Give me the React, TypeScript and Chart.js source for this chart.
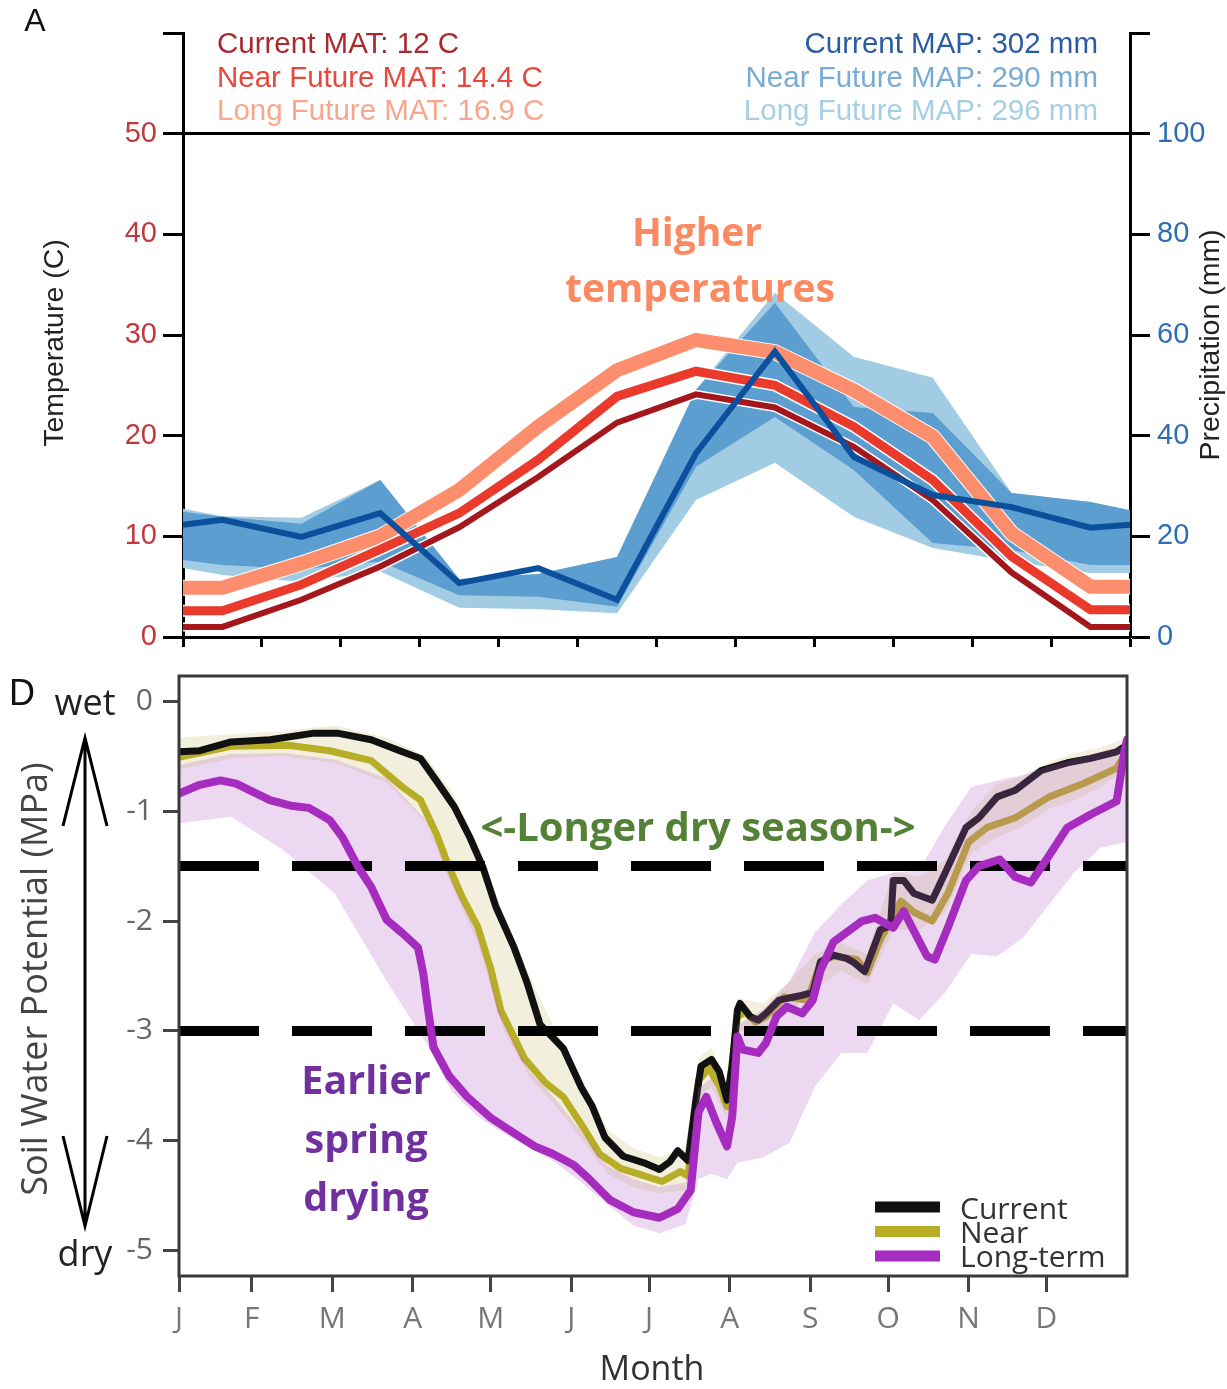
import React, { useEffect, useRef } from 'react';
import { Chart, registerables } from 'chart.js';

Chart.register(...registerables);

// ---------------- Panel A data ----------------
const monthX = [0, 0.5, 1.5, 2.5, 3.5, 4.5, 5.5, 6.5, 7.5, 8.5, 9.5, 10.5, 11.5, 12];
const tempCurrent = [1.0, 1.0, 3.7, 7.0, 10.9, 15.9, 21.3, 24.1, 22.8, 18.9, 13.6, 6.4, 1.0, 1.0];
const tempNear = [2.6, 2.6, 5.2, 8.7, 12.3, 17.6, 23.9, 26.4, 25.0, 20.9, 15.6, 8.0, 2.7, 2.7];
const tempLong = [4.9, 4.9, 7.3, 10.0, 14.6, 20.9, 26.5, 29.5, 28.3, 24.5, 19.9, 10.3, 5.0, 5.0];
const precipCurrent = [22.3, 23.3, 19.9, 24.6, 10.7, 13.7, 7.4, 36.5, 56.7, 35.8, 28.2, 25.8, 21.7, 22.3];
const precipNearUpper = [24.9, 23.9, 22.5, 31.2, 11.5, 12.5, 15.9, 49.1, 66.4, 45.7, 44.5, 28.6, 26.8, 25.2];
const precipNearLower = [15.3, 14.3, 13.5, 15.0, 8.3, 8.0, 6.0, 33.8, 43.7, 33.2, 18.7, 17.3, 14.3, 14.3];
const precipLongUpper = [25.5, 24.0, 23.7, 31.2, 11.5, 12.5, 15.9, 49.1, 68.4, 55.7, 51.5, 28.6, 26.8, 25.2];
const precipLongLower = [13.7, 12.3, 11.0, 13.0, 5.8, 5.5, 4.7, 27.2, 34.6, 23.9, 17.7, 15.0, 12.7, 12.7];
const tempTicks = [0, 10, 20, 30, 40, 50];
const precipTicks = [0, 20, 40, 60, 80, 100];
const matLabels = ['Current MAT: 12 C', 'Near Future MAT: 14.4 C', 'Long Future MAT: 16.9 C'];
const mapLabels = ['Current MAP: 302 mm', 'Near Future MAP: 290 mm', 'Long Future MAP: 296 mm'];

// ---------------- Panel D data ----------------
const monthTickDays = [0, 28, 59, 90, 120, 151, 181, 212, 243, 273, 304, 334];
const monthLetters = ['J', 'F', 'M', 'A', 'M', 'J', 'J', 'A', 'S', 'O', 'N', 'D'];
const swpTicks = [0, -1, -2, -3, -4, -5];
const thresholds = [-1.5, -3];

const currentDays = [0, 8, 20, 35, 52, 61, 74, 86, 93, 99, 106, 112, 117, 122, 129, 134, 139, 148, 155, 159, 164, 171, 179, 185, 189, 192, 196, 199, 201, 205, 208, 211, 213, 215, 216, 220, 223, 226, 231, 239, 244, 247, 252, 257, 260, 264, 270, 274, 275, 279, 283, 290, 295, 303, 308, 315, 322, 332, 342, 351, 361, 365];
const currentSWP = [-0.46, -0.45, -0.37, -0.35, -0.29, -0.29, -0.35, -0.46, -0.52, -0.72, -0.96, -1.24, -1.51, -1.87, -2.24, -2.56, -2.94, -3.16, -3.52, -3.68, -3.97, -4.14, -4.2, -4.26, -4.19, -4.09, -4.18, -3.63, -3.32, -3.26, -3.37, -3.63, -3.31, -2.81, -2.75, -2.87, -2.9, -2.84, -2.72, -2.68, -2.65, -2.37, -2.31, -2.34, -2.38, -2.46, -2.08, -2.04, -1.63, -1.63, -1.75, -1.81, -1.56, -1.15, -1.06, -0.87, -0.81, -0.63, -0.56, -0.52, -0.46, -0.4];

const nearDays = [0, 20, 42, 58, 74, 86, 93, 99, 104, 109, 115, 120, 124, 133, 141, 148, 156, 162, 170, 178, 186, 193, 196, 200, 204, 208, 211, 215, 218, 222, 226, 233, 242, 247, 252, 261, 265, 270, 278, 283, 290, 296, 304, 311, 322, 335, 348, 361, 365];
const nearSWP = [-0.51, -0.41, -0.4, -0.45, -0.54, -0.78, -0.9, -1.2, -1.51, -1.78, -2.05, -2.43, -2.82, -3.25, -3.47, -3.6, -3.89, -4.12, -4.25, -4.31, -4.37, -4.28, -4.32, -3.45, -3.34, -3.5, -3.69, -2.87, -2.83, -2.92, -2.87, -2.69, -2.72, -2.38, -2.32, -2.35, -2.47, -2.17, -1.82, -1.92, -2.0, -1.75, -1.28, -1.15, -1.06, -0.87, -0.75, -0.61, -0.45];

const longDays = [0, 8, 16, 22, 35, 43, 50, 58, 63, 69, 74, 80, 86, 92, 94, 96, 98, 104, 111, 120, 129, 137, 144, 152, 158, 166, 175, 185, 192, 197, 200, 203, 207, 211, 213, 215, 217, 223, 226, 230, 234, 240, 244, 247, 252, 263, 268, 275, 279, 288, 291, 296, 303, 308, 316, 322, 328, 334, 342, 351, 361, 364, 365];
const longSWP = [-0.84, -0.76, -0.72, -0.75, -0.9, -0.95, -0.97, -1.08, -1.24, -1.51, -1.69, -1.99, -2.11, -2.24, -2.47, -2.82, -3.15, -3.41, -3.6, -3.79, -3.93, -4.05, -4.12, -4.22, -4.35, -4.54, -4.65, -4.7, -4.62, -4.45, -3.74, -3.6, -3.84, -4.05, -3.78, -3.05, -3.17, -3.2, -3.11, -2.87, -2.78, -2.84, -2.72, -2.45, -2.19, -2.0, -1.97, -2.06, -1.91, -2.32, -2.35, -2.06, -1.63, -1.5, -1.44, -1.6, -1.65, -1.44, -1.15, -1.03, -0.91, -0.46, -0.35];

const bandDays = [0, 20, 40, 60, 80, 95, 105, 115, 125, 135, 145, 155, 165, 175, 185, 195, 200, 205, 211, 215, 225, 235, 245, 255, 265, 275, 285, 295, 305, 315, 325, 335, 345, 355, 365];
const nearBandUpper = [-0.33, -0.3, -0.27, -0.22, -0.33, -0.5, -0.82, -1.3, -1.95, -2.5, -3.0, -3.42, -3.9, -4.07, -4.15, -4.05, -3.25, -3.15, -3.5, -2.7, -2.75, -2.55, -2.3, -2.2, -2.3, -1.55, -1.6, -1.45, -1.0, -0.75, -0.68, -0.55, -0.47, -0.42, -0.33];
const nearBandLower = [-0.62, -0.52, -0.5, -0.56, -0.74, -1.1, -1.68, -2.2, -3.0, -3.42, -3.68, -3.98, -4.3, -4.42, -4.48, -4.45, -3.6, -3.5, -3.8, -3.0, -3.0, -2.82, -2.62, -2.45, -2.58, -2.08, -2.08, -1.92, -1.38, -1.24, -1.14, -0.98, -0.9, -0.78, -0.6];
const longBandUpper = [-0.58, -0.48, -0.47, -0.53, -0.7, -1.08, -1.62, -2.13, -2.93, -3.37, -3.62, -3.92, -4.23, -4.35, -4.42, -4.38, -3.52, -3.43, -3.75, -2.95, -2.8, -2.55, -2.1, -1.85, -1.63, -1.56, -1.54, -1.13, -0.78, -0.72, -0.67, -0.59, -0.52, -0.46, -0.4];
const longBandLower = [-1.11, -1.05, -1.35, -1.75, -2.55, -3.1, -3.55, -3.78, -3.93, -4.06, -4.2, -4.38, -4.58, -4.77, -4.84, -4.76, -4.35, -4.3, -4.35, -4.2, -4.15, -4.02, -3.5, -3.2, -3.2, -2.75, -2.9, -2.65, -2.3, -2.32, -2.15, -1.85, -1.55, -1.33, -1.28];
const legendD = ['Current', 'Near', 'Long-term'];

// ---------------- helpers ----------------
const pts = (xs: number[], ys: number[]) => xs.map((x, i) => ({ x, y: ys[i] }));
const line = (data: any, color: string, width: number, extra: any = {}) => ({
  data,
  borderColor: color,
  borderWidth: width,
  pointRadius: 0,
  pointHoverRadius: 0,
  fill: false,
  tension: 0,
  ...extra,
});
const band = (data: any, fillColor: string, withFill: boolean, extra: any = {}) => ({
  data,
  borderColor: 'rgba(0,0,0,0)',
  borderWidth: 0,
  pointRadius: 0,
  pointHoverRadius: 0,
  tension: 0,
  fill: withFill ? '+1' : false,
  backgroundColor: fillColor,
  ...extra,
});

const ARIAL = '"Liberation Sans", Arial, sans-serif';
const OPEN = '"Open Sans", "DejaVu Sans", sans-serif';

const COL = {
  tCur: '#a3171d',
  tNear: '#e93a2b',
  tLong: '#fc8e6d',
  pCur: '#0b4f9d',
  pMed: '#5b9ecf',
  pLight: '#a2cce3',
  black: '#111111',
  olive: '#b8ad27',
  purple: '#a62cc0',
};

const textPluginA = {
  id: 'textA',
  afterDraw(chart: any) {
    const ctx = chart.ctx;
    ctx.save();
    ctx.textBaseline = 'middle';
    ctx.fillStyle = '#111';
    ctx.font = `32px ${ARIAL}`;
    ctx.textAlign = 'center';
    ctx.fillText('A', 35, 22);

    ctx.font = `29.5px ${ARIAL}`;
    ctx.textAlign = 'left';
    const matCols = ['#a82a30', '#e8473b', '#f8a68c'];
    matLabels.forEach((t, i) => {
      ctx.fillStyle = matCols[i];
      ctx.fillText(t, 217, 45 + i * 33.5);
    });
    ctx.textAlign = 'right';
    const mapCols = ['#2a5ba3', '#78acd6', '#a6cee4'];
    mapLabels.forEach((t, i) => {
      ctx.fillStyle = mapCols[i];
      ctx.fillText(t, 1098, 45 + i * 33.5);
    });

    ctx.fillStyle = '#222';
    ctx.font = `28.5px ${ARIAL}`;
    ctx.textAlign = 'center';
    ctx.save();
    ctx.translate(55, 343);
    ctx.rotate(-Math.PI / 2);
    ctx.fillText('Temperature (C)', 0, 0);
    ctx.restore();
    ctx.save();
    ctx.translate(1211, 345);
    ctx.rotate(-Math.PI / 2);
    ctx.fillText('Precipitation (mm)', 0, 0);
    ctx.restore();

    ctx.fillStyle = '#fb8a62';
    ctx.font = `bold 39px ${OPEN}`;
    ctx.fillText('Higher', 697, 235);
    ctx.fillText('temperatures', 700, 291);
    ctx.restore();
  },
};

const textPluginD = {
  id: 'textD',
  afterDatasetDraw(chart: any, args: any) {
    // dashed reference lines go over the shaded bands but under the long-term line
    if (args.index !== 1) return;
    const ctx = chart.ctx;
    const { left, right } = chart.chartArea;
    const y = chart.scales.y;
    ctx.save();
    ctx.strokeStyle = '#000';
    ctx.lineWidth = 10;
    ctx.setLineDash([80, 33]);
    thresholds.forEach((v) => {
      const py = y.getPixelForValue(v);
      ctx.beginPath();
      ctx.moveTo(left, py);
      ctx.lineTo(right, py);
      ctx.stroke();
    });
    ctx.restore();
  },
  afterDraw(chart: any) {
    const ctx = chart.ctx;
    const { left, right, top, bottom } = chart.chartArea;
    ctx.save();
    // box
    ctx.strokeStyle = '#3a3a3a';
    ctx.lineWidth = 3;
    ctx.strokeRect(left, top, right - left, bottom - top);

    ctx.textBaseline = 'middle';
    ctx.textAlign = 'center';
    ctx.fillStyle = '#111';
    ctx.font = `36px ${ARIAL}`;
    ctx.fillText('D', 22, 35);

    ctx.fillStyle = '#222';
    ctx.font = `36px ${OPEN}`;
    ctx.fillText('wet', 85, 45);
    ctx.fillText('dry', 85, 596);

    // arrow
    ctx.strokeStyle = '#000';
    ctx.lineWidth = 3;
    ctx.beginPath();
    ctx.moveTo(85, 78);
    ctx.lineTo(85, 566);
    ctx.moveTo(63, 166);
    ctx.lineTo(85, 78);
    ctx.lineTo(107, 166);
    ctx.moveTo(63, 476);
    ctx.lineTo(85, 566);
    ctx.lineTo(107, 476);
    ctx.stroke();

    ctx.fillStyle = '#444';
    ctx.font = `36px ${OPEN}`;
    ctx.save();
    ctx.translate(37, 319);
    ctx.rotate(-Math.PI / 2);
    ctx.fillText('Soil Water Potential (MPa)', 0, 0);
    ctx.restore();

    ctx.fillStyle = '#333';
    ctx.font = `34px ${OPEN}`;
    ctx.fillText('Month', 652, 710);

    // annotations
    ctx.fillStyle = '#538135';
    ctx.font = `bold 40px ${OPEN}`;
    ctx.fillText('<-Longer dry season->', 698, 170);
    ctx.fillStyle = '#7030a0';
    ctx.font = `bold 39.5px ${OPEN}`;
    ctx.fillText('Earlier', 366, 423);
    ctx.fillText('spring', 366, 482);
    ctx.fillText('drying', 366, 540);

    // legend
    const legCols = [COL.black, COL.olive, COL.purple];
    ctx.lineWidth = 11;
    ctx.lineCap = 'butt';
    legCols.forEach((c, i) => {
      ctx.strokeStyle = c;
      ctx.beginPath();
      ctx.moveTo(875, 547 + i * 24.5);
      ctx.lineTo(940, 547 + i * 24.5);
      ctx.stroke();
    });
    ctx.fillStyle = '#333';
    ctx.font = `30px ${OPEN}`;
    ctx.textAlign = 'left';
    legendD.forEach((t, i) => {
      ctx.fillText(t, 960, 550 + i * 24);
    });
    ctx.restore();
  },
};

export default function App() {
  const refA = useRef<HTMLCanvasElement>(null);
  const refD = useRef<HTMLCanvasElement>(null);

  useEffect(() => {
    const chartA = new Chart(refA.current as HTMLCanvasElement, {
      type: 'line',
      data: {
        datasets: [
          line(pts(monthX, precipCurrent), COL.pCur, 6, { yAxisID: 'yP' }),
          line(pts(monthX, tempCurrent), COL.tCur, 6, { yAxisID: 'yT' }),
          line(pts(monthX, tempCurrent), '#ffffff', 9, { yAxisID: 'yT' }),
          line(pts(monthX, tempNear), COL.tNear, 9, { yAxisID: 'yT' }),
          line(pts(monthX, tempNear), '#ffffff', 12, { yAxisID: 'yT' }),
          line(pts(monthX, tempLong), COL.tLong, 14, { yAxisID: 'yT' }),
          line(pts(monthX, tempLong), '#ffffff', 16, { yAxisID: 'yT' }),
          band(pts(monthX, precipNearUpper), COL.pMed, true, { yAxisID: 'yP' }),
          band(pts(monthX, precipNearLower), COL.pMed, false, { yAxisID: 'yP' }),
          band(pts(monthX, precipLongUpper), COL.pLight, true, { yAxisID: 'yP' }),
          band(pts(monthX, precipLongLower), COL.pLight, false, { yAxisID: 'yP' }),
        ],
      },
      options: {
        animation: false,
        responsive: false,
        events: [],
        layout: { padding: { top: 33, left: 0, right: 0, bottom: 0 } },
        plugins: { legend: { display: false }, tooltip: { enabled: false } },
        scales: {
          x: {
            type: 'linear',
            min: 0,
            max: 12,
            afterBuildTicks: (s: any) => {
              s.ticks = Array.from({ length: 13 }, (_, i) => ({ value: i }));
            },
            ticks: { callback: () => '', autoSkip: false, maxRotation: 0 },
            grid: { drawOnChartArea: false, tickLength: 10, tickWidth: 3, tickColor: '#000' },
            border: { color: '#000', width: 3 },
            afterFit: (s: any) => {
              s.height = 23;
            },
          },
          yT: {
            type: 'linear',
            position: 'left',
            min: 0,
            max: 60,
            afterBuildTicks: (s: any) => {
              s.ticks = [...tempTicks, 60].map((v) => ({ value: v }));
            },
            ticks: {
              callback: (v: any) => (tempTicks.includes(v) ? String(v) : ''),
              color: '#c0393e',
              font: { family: ARIAL, size: 29 },
              padding: 6,
            },
            grid: {
              drawOnChartArea: true,
              color: (c: any) => (c.tick && c.tick.value === 50 ? '#000' : 'rgba(0,0,0,0)'),
              lineWidth: 3,
              tickLength: 20,
              tickWidth: 3,
              tickColor: '#000',
            },
            border: { color: '#000', width: 3 },
            afterFit: (s: any) => {
              s.width = 183;
              s.paddingTop = 0;
              s.paddingBottom = 0;
            },
          },
          yP: {
            type: 'linear',
            position: 'right',
            min: 0,
            max: 120,
            afterBuildTicks: (s: any) => {
              s.ticks = [...precipTicks, 120].map((v) => ({ value: v }));
            },
            ticks: {
              callback: (v: any) => (precipTicks.includes(v) ? String(v) : ''),
              color: '#2f6eb5',
              font: { family: ARIAL, size: 29 },
              padding: 7,
            },
            grid: { drawOnChartArea: false, tickLength: 20, tickWidth: 3, tickColor: '#000' },
            border: { color: '#000', width: 3 },
            afterFit: (s: any) => {
              s.width = 97;
              s.paddingTop = 0;
              s.paddingBottom = 0;
            },
          },
        },
      } as any,
      plugins: [textPluginA],
    } as any);

    const chartD = new Chart(refD.current as HTMLCanvasElement, {
      type: 'line',
      data: {
        datasets: [
          line(pts(longDays, longSWP), COL.purple, 8, { borderJoinStyle: 'round', borderCapStyle: 'round' }),
          band(pts(bandDays, longBandUpper), 'rgba(185,100,200,0.25)', true),
          band(pts(bandDays, longBandLower), 'rgba(185,100,200,0.25)', false),
          line(pts(currentDays, currentSWP), COL.black, 7, { borderJoinStyle: 'round', borderCapStyle: 'round' }),
          line(pts(nearDays, nearSWP), COL.olive, 7, { borderJoinStyle: 'round', borderCapStyle: 'round' }),
          band(pts(bandDays, nearBandUpper), 'rgba(190,180,80,0.2)', true),
          band(pts(bandDays, nearBandLower), 'rgba(190,180,80,0.2)', false),
        ],
      },
      options: {
        animation: false,
        responsive: false,
        events: [],
        layout: { padding: { top: 16, left: 0, right: 100, bottom: 0 } },
        plugins: { legend: { display: false }, tooltip: { enabled: false } },
        scales: {
          x: {
            type: 'linear',
            min: 0,
            max: 365,
            afterBuildTicks: (s: any) => {
              s.ticks = monthTickDays.map((v) => ({ value: v }));
            },
            ticks: {
              callback: (_v: any, i: number) => monthLetters[i],
              autoSkip: false,
              maxRotation: 0,
              color: '#777',
              font: { family: OPEN, size: 30 },
              padding: 9,
            },
            grid: { drawOnChartArea: false, tickLength: 16, tickWidth: 3, tickColor: '#444' },
            border: { display: false },
            afterFit: (s: any) => {
              s.height = 113;
              s.paddingLeft = 0;
              s.paddingRight = 0;
            },
          },
          y: {
            type: 'linear',
            min: -5.23,
            max: 0.23,
            afterBuildTicks: (s: any) => {
              s.ticks = swpTicks.map((v) => ({ value: v }));
            },
            ticks: {
              callback: (v: any) => String(v),
              color: '#666',
              font: { family: OPEN, size: 30 },
              padding: 10,
            },
            grid: { drawOnChartArea: false, tickLength: 16, tickWidth: 3, tickColor: '#444' },
            border: { display: false },
            afterFit: (s: any) => {
              s.width = 179;
              s.paddingTop = 0;
              s.paddingBottom = 0;
            },
          },
        },
      } as any,
      plugins: [textPluginD],
    } as any);

    return () => {
      chartA.destroy();
      chartD.destroy();
    };
  }, []);

  return (
    <div style={{ position: 'absolute', left: 0, top: 0, width: 1227, height: 1389, background: '#fff' }}>
      <canvas
        ref={refA}
        width={1227}
        height={660}
        style={{ position: 'absolute', left: 0, top: 0, width: 1227, height: 660 }}
      />
      <canvas
        ref={refD}
        width={1227}
        height={729}
        style={{ position: 'absolute', left: 0, top: 660, width: 1227, height: 729 }}
      />
    </div>
  );
}
